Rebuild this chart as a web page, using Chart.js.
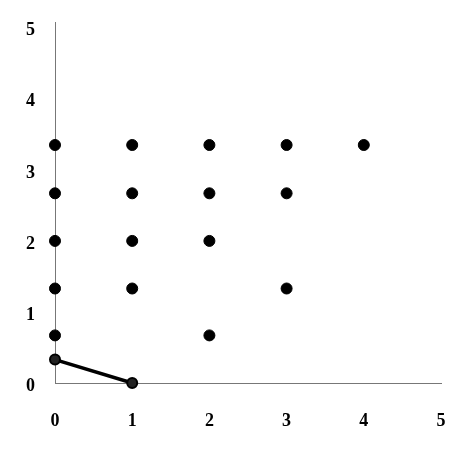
<!DOCTYPE html>
<html>
<head>
<meta charset="utf-8">
<script src="https://cdn.jsdelivr.net/npm/chart.js@4/dist/chart.umd.min.js"></script>
<style>
html,body{margin:0;padding:0;background:#fff;}
#wrap{width:470px;height:451px;}
</style>
</head>
<body>
<div id="wrap"><canvas id="c" width="470" height="451"></canvas></div>
<script>
const tickLabels = [0, 1, 2, 3, 4, 5];
const dotsX = [0, 0, 0, 0, 0, 1, 1, 1, 1, 2, 2, 2, 2, 3, 3, 3, 4];
const dotsY = [0.67, 1.33, 2, 2.67, 3.35, 1.33, 2, 2.67, 3.35, 0.67, 2, 2.67, 3.35, 1.33, 2.67, 3.35, 3.35];
const lineX = [0, 1];
const lineY = [0.33, 0];

const dots = dotsX.map((x, i) => ({x: x, y: dotsY[i]}));
const linePts = lineX.map((x, i) => ({x: x, y: lineY[i]}));

const tickFont = {family: "'Liberation Serif', 'DejaVu Serif', serif", size: 18, weight: 'bold'};

new Chart(document.getElementById('c'), {
  data: {
    datasets: [
      {
        type: 'line',
        data: linePts,
        borderColor: '#000',
        borderWidth: 3.5,
        pointRadius: 5,
        pointBackgroundColor: '#222',
        pointBorderColor: '#000',
        pointBorderWidth: 2,
        clip: false,
        order: 1
      },
      {
        type: 'scatter',
        data: dots,
        backgroundColor: '#000',
        borderColor: '#000',
        pointRadius: 5.5,
        pointBorderWidth: 1,
        clip: false,
        order: 2
      }
    ]
  },
  options: {
    responsive: false,
    animation: false,
    layout: {padding: {top: 15, right: 29, left: 0, bottom: 0}},
    plugins: {legend: {display: false}, tooltip: {enabled: false}},
    scales: {
      x: {
        type: 'linear',
        min: 0,
        max: 5,
        grid: {display: false},
        border: {display: true, color: '#777', width: 1},
        afterBuildTicks: (s) => { s.ticks = tickLabels.map(v => ({value: v})); },
        afterFit: (s) => { s.height = 451 - 383; },
        ticks: {color: '#000', font: tickFont, padding: 20, maxRotation: 0}
      },
      y: {
        type: 'linear',
        min: 0,
        max: 5.07,
        grid: {display: false},
        border: {display: true, color: '#777', width: 1},
        afterBuildTicks: (s) => { s.ticks = tickLabels.map(v => ({value: v})); },
        afterFit: (s) => { s.width = 55; },
        ticks: {color: '#000', font: tickFont, padding: 12, labelOffset: 3}
      }
    }
  }
});
</script>
</body>
</html>
